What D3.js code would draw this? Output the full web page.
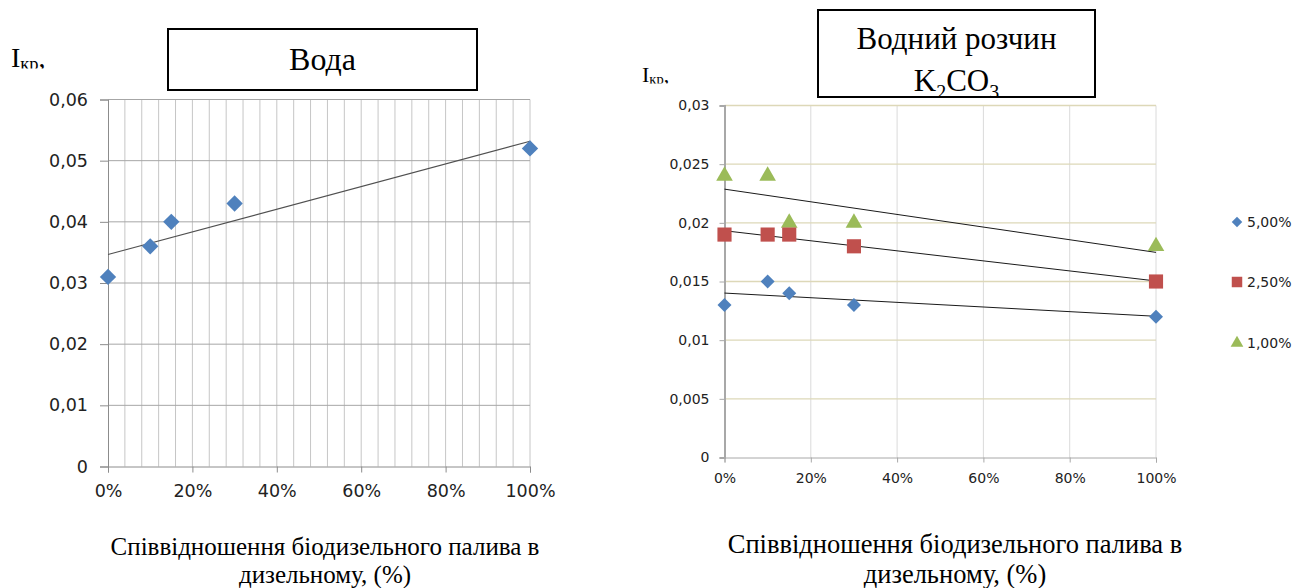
<!DOCTYPE html>
<html>
<head>
<meta charset="utf-8">
<script src="https://cdn.jsdelivr.net/npm/d3@7"></script>
<style>
  body { margin: 0; background: #fff; }
  svg { display: block; }
</style>
</head>
<body>
<svg id="chart" width="1294" height="588"></svg>
<script>
// дані
const shares = [0, 0.10, 0.15, 0.30, 1.00];          // частка біодизеля
const water = [0.031, 0.036, 0.040, 0.043, 0.052];    // Вода
const k5 = [0.013, 0.015, 0.014, 0.013, 0.012];       // 5,00%
const k25 = [0.019, 0.019, 0.019, 0.018, 0.015];      // 2,50%
const k1 = [0.024, 0.024, 0.020, 0.020, 0.018];       // 1,00%
const seriesNames = ["5,00%", "2,50%", "1,00%"];
const xTicks = [0, 0.2, 0.4, 0.6, 0.8, 1.0];
const yTicksL = [0, 0.01, 0.02, 0.03, 0.04, 0.05, 0.06];
const yTicksR = [0, 0.005, 0.01, 0.015, 0.02, 0.025, 0.03];

const blue = "#4f81bd", red = "#c0504d", green = "#9bbb59";
const serif = "'Liberation Serif', 'Times New Roman', serif";
const sans = "'DejaVu Sans', sans-serif";

const loc = d3.formatLocale({ decimal: ",", thousands: " ", grouping: [3], currency: ["", ""] });
const pct = d3.format(".0%");

// лінійний тренд (МНК)
function trend(xs, ys) {
    const mx = d3.mean(xs), my = d3.mean(ys);
    const sxy = d3.sum(xs, function (x, i) { return (x - mx) * (ys[i] - my); });
    const sxx = d3.sum(xs, function (x) { return (x - mx) * (x - mx); });
    const b = sxy / sxx;
    return function (x) { return my + b * (x - mx); };
}

const svg = d3.select("#chart");
const defs = svg.append("defs");

// ---------- Ліва діаграма: Вода ----------
const xL = d3.scaleLinear().domain([0, 1]).range([108, 530]);
const yL = d3.scaleLinear().domain([0, 0.06]).range([466.5, 99.5]);
const gL = svg.append("g");

// сітка
gL.selectAll(".vgrid").data(d3.range(1, 26).map(function (i) { return i * 0.04; }))
    .enter().append("line")
    .attr("x1", function (d) { return xL(d); }).attr("x2", function (d) { return xL(d); })
    .attr("y1", yL(0.06)).attr("y2", yL(0))
    .attr("stroke", "#c6c6c6").attr("stroke-width", 1);
gL.selectAll(".hgrid").data(yTicksL.slice(1))
    .enter().append("line")
    .attr("x1", xL(0)).attr("x2", xL(1))
    .attr("y1", function (d) { return yL(d); }).attr("y2", function (d) { return yL(d); })
    .attr("stroke", "#a6a6a6").attr("stroke-width", 1);

// осі
const axL = gL.append("g").attr("transform", "translate(" + xL(0) + ",0)")
    .call(d3.axisLeft(yL).tickValues(yTicksL).tickSize(8).tickPadding(12)
        .tickFormat(function (d) { return loc.format(".2~f")(d); }));
const axLb = gL.append("g").attr("transform", "translate(0," + yL(0) + ")")
    .call(d3.axisBottom(xL).tickValues(xTicks).tickSize(6).tickPadding(12).tickFormat(pct));
[axL, axLb].forEach(function (a) {
    a.select(".domain").attr("stroke", "#8c8c8c");
    a.selectAll(".tick line").attr("stroke", "#8c8c8c");
    a.selectAll("text").attr("font-family", sans).attr("font-size", 17.5).attr("fill", "#222");
});

// тренд
const fL = trend(shares, water);
gL.append("line")
    .attr("x1", xL(0)).attr("y1", yL(fL(0)))
    .attr("x2", xL(1)).attr("y2", yL(fL(1)))
    .attr("stroke", "#505050").attr("stroke-width", 1.2);

// точки
gL.selectAll(".pt").data(shares)
    .enter().append("path")
    .attr("transform", function (d, i) { return "translate(" + xL(d) + "," + yL(water[i]) + ")"; })
    .attr("d", d3.symbol(d3.symbolDiamond2, 170))
    .attr("fill", blue);

// ---------- Права діаграма: Водний розчин K2CO3 ----------
const xR = d3.scaleLinear().domain([0, 1]).range([724.5, 1156]);
const yR = d3.scaleLinear().domain([0, 0.03]).range([457.5, 105.5]);
const gR = svg.append("g");

gR.selectAll(".vgrid").data(xTicks.slice(1))
    .enter().append("line")
    .attr("x1", function (d) { return xR(d); }).attr("x2", function (d) { return xR(d); })
    .attr("y1", yR(0.03)).attr("y2", yR(0))
    .attr("stroke", "#dadada").attr("stroke-width", 1);
gR.selectAll(".hgrid").data(yTicksR.slice(1))
    .enter().append("line")
    .attr("x1", xR(0)).attr("x2", xR(1))
    .attr("y1", function (d) { return yR(d); }).attr("y2", function (d) { return yR(d); })
    .attr("stroke", "#ddd8b8").attr("stroke-width", 1.3);

const axR = gR.append("g").attr("transform", "translate(" + xR(0) + ",0)")
    .call(d3.axisLeft(yR).tickValues(yTicksR).tickSize(5).tickPadding(10)
        .tickFormat(function (d) { return loc.format(".3~f")(d); }));
const axRb = gR.append("g").attr("transform", "translate(0," + yR(0) + ")")
    .call(d3.axisBottom(xR).tickValues(xTicks).tickSize(5).tickPadding(11).tickFormat(pct));
axR.select(".domain").attr("stroke", "#a8a8a8").attr("stroke-width", 2);
axRb.select(".domain").attr("stroke", "#a8a8a8");
[axR, axRb].forEach(function (a) {
    a.selectAll(".tick line").attr("stroke", "#a8a8a8");
    a.selectAll("text").attr("font-family", sans).attr("font-size", 14).attr("fill", "#222");
});

const rSeries = [
    { name: seriesNames[0], values: k5, color: blue, sym: d3.symbolDiamond2, size: 125 },
    { name: seriesNames[1], values: k25, color: red, sym: d3.symbolSquare, size: 200 },
    { name: seriesNames[2], values: k1, color: green, sym: d3.symbolTriangle, size: 120 }
];

// тренди
rSeries.forEach(function (s) {
    const f = trend(shares, s.values);
    gR.append("line")
        .attr("x1", xR(0)).attr("y1", yR(f(0)))
        .attr("x2", xR(1)).attr("y2", yR(f(1)))
        .attr("stroke", "#1a1a1a").attr("stroke-width", 1);
});

// точки (зелені під червоними, як в оригіналі)
[rSeries[0], rSeries[2], rSeries[1]].forEach(function (s) {
    gR.selectAll(null).data(shares)
        .enter().append("path")
        .attr("transform", function (d, i) { return "translate(" + xR(d) + "," + yR(s.values[i]) + ")"; })
        .attr("d", d3.symbol(s.sym, s.size))
        .attr("fill", s.color);
});

// легенда
const legY = [222, 282, 343];
rSeries.forEach(function (s, i) {
    const g = svg.append("g").attr("transform", "translate(1237," + legY[i] + ")");
    g.append("path").attr("d", d3.symbol(s.sym, s.sym === d3.symbolSquare ? 110 : 70)).attr("fill", s.color);
    g.append("text").attr("x", 10).attr("y", 5).attr("font-family", sans).attr("font-size", 14)
        .attr("fill", "#222").text(s.name);
});

// ---------- Заголовки ----------
// ліва рамка
svg.append("rect").attr("x", 168).attr("y", 29).attr("width", 309).attr("height", 61)
    .attr("fill", "#fff").attr("stroke", "#000").attr("stroke-width", 2);
svg.append("text").attr("x", 322.5).attr("y", 70).attr("text-anchor", "middle")
    .attr("font-family", serif).attr("font-size", 32).text("Вода");

// права рамка з обрізанням тексту
defs.append("clipPath").attr("id", "boxR").append("rect")
    .attr("x", 818).attr("y", 10).attr("width", 277).attr("height", 87);
svg.append("rect").attr("x", 818).attr("y", 10).attr("width", 277).attr("height", 87)
    .attr("fill", "#fff").attr("stroke", "#000").attr("stroke-width", 2);
const tR = svg.append("g").attr("clip-path", "url(#boxR)");
tR.append("text").attr("x", 956.5).attr("y", 49).attr("text-anchor", "middle")
    .attr("font-family", serif).attr("font-size", 31).text("Водний розчин");
const k2 = tR.append("text").attr("x", 956.5).attr("y", 91).attr("text-anchor", "middle")
    .attr("font-family", serif).attr("font-size", 31);
k2.append("tspan").text("K");
k2.append("tspan").attr("font-size", 20).attr("dy", 8).text("2");
k2.append("tspan").attr("dy", -8).text("CO");
k2.append("tspan").attr("font-size", 20).attr("dy", 8).text("3");

// підписи осі Y (нижня частина індексу обрізана, як в оригіналі)
defs.append("clipPath").attr("id", "ikrL").append("rect").attr("x", 0).attr("y", 30).attr("width", 80).attr("height", 38.5);
defs.append("clipPath").attr("id", "ikrR").append("rect").attr("x", 620).attr("y", 50).attr("width", 80).attr("height", 33.5);
function ikr(x, y, size, clip) {
    const t = svg.append("text").attr("x", x).attr("y", y).attr("clip-path", "url(#" + clip + ")")
        .attr("font-family", serif).attr("font-size", size);
    t.append("tspan").text("I");
    t.append("tspan").attr("font-size", size * 0.66).attr("dy", size * 0.1).text("кр");
    t.append("tspan").attr("dy", -size * 0.1).text(",");
}
ikr(11, 67, 28, "ikrL");
ikr(642, 82, 22, "ikrR");

// підписи осі X
function xTitle(cx, y1, y2, size) {
    svg.append("text").attr("x", cx).attr("y", y1).attr("text-anchor", "middle")
        .attr("font-family", serif).attr("font-size", size).text("Співвідношення біодизельного палива в");
    svg.append("text").attr("x", cx).attr("y", y2).attr("text-anchor", "middle")
        .attr("font-family", serif).attr("font-size", size).text("дизельному, (%)");
}
xTitle(325, 555, 583, 25);
xTitle(955, 553, 583, 26.5);
</script>
</body>
</html>
